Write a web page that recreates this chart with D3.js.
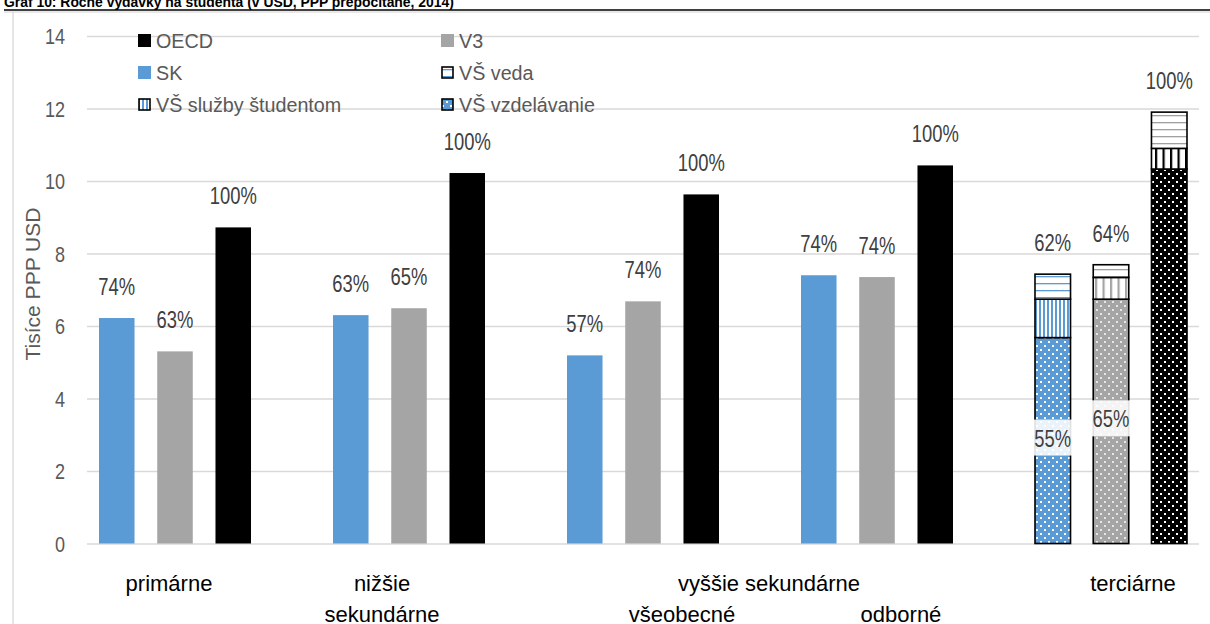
<!DOCTYPE html>
<html>
<head>
<meta charset="utf-8">
<script src="https://cdn.jsdelivr.net/npm/d3@7/dist/d3.min.js"></script>
<style>
body { margin: 0; overflow: hidden; background: #fff; }
text { font-family: "Liberation Sans", Arial, sans-serif; }
.tick line { stroke: #d9d9d9; stroke-width: 1.3; }
.tick text { font-size: 22px; fill: #595959; }
</style>
</head>
<body>
<svg width="1210" height="624"></svg>
<script>
// data
const categories = ['primárne', 'nižšie sekundárne', 'všeobecné', 'odborné', 'terciárne'];
const seriesNames = ['SK', 'V3', 'OECD'];
const skValues = [6.22, 6.30, 5.19, 7.40];
const v3Values = [5.30, 6.49, 6.68, 7.35];
const oecdValues = [8.72, 10.22, 9.63, 10.43];
const skLabels = ['74%', '63%', '57%', '74%', '62%'];
const v3Labels = ['63%', '65%', '74%', '74%', '64%'];
const oecdLabels = ['100%', '100%', '100%', '100%', '100%'];
const tertiaryParts = ['VŠ vzdelávanie', 'VŠ služby študentom', 'VŠ veda'];
const skTertiary = [5.68, 1.06, 0.69];
const v3Tertiary = [6.74, 0.60, 0.35];
const oecdTertiary = [10.33, 0.57, 1.00];
const tertiaryEduLabels = ['55%', '65%', null];
const yTicks = [0, 2, 4, 6, 8, 10, 12, 14];
const legendNames = ['OECD', 'V3', 'SK', 'VŠ veda', 'VŠ služby študentom', 'VŠ vzdelávanie'];

const svg = d3.select('svg');
const colors = { SK: '#5b9bd5', V3: '#a5a5a5', OECD: '#000000' };
const font = '"Liberation Sans", Arial, sans-serif';

// title strip (cut off at the top in the original)
svg.append('text')
  .attr('x', 4).attr('y', 6.5)
  .style('font-size', '13.9px').style('font-weight', 'bold').attr('fill', '#000')
  .text('Graf 10: Ročné výdavky na študenta (v USD, PPP prepočítané, 2014)');
svg.append('line').attr('x1', 4).attr('x2', 1210).attr('y1', 10).attr('y2', 10)
  .attr('stroke', '#000').attr('stroke-width', 1.5);
svg.append('line').attr('x1', 4).attr('x2', 1210).attr('y1', 12).attr('y2', 12)
  .attr('stroke', '#d0d0d0').attr('stroke-width', 1);
svg.append('line').attr('x1', 13).attr('x2', 13).attr('y1', 12).attr('y2', 624)
  .attr('stroke', '#d9d9d9').attr('stroke-width', 1.3);

// patterns
const defs = svg.append('defs');
seriesNames.forEach(s => {
  const c = colors[s];
  const dots = defs.append('pattern').attr('id', 'dots-' + s)
    .attr('patternUnits', 'userSpaceOnUse').attr('width', 8).attr('height', 8);
  dots.append('rect').attr('width', 8).attr('height', 8).attr('fill', c);
  const dc = s === 'V3' ? '#e6e6e6' : '#ffffff';
  dots.append('rect').attr('x', 1).attr('y', 1).attr('width', 2).attr('height', 2).attr('fill', dc);
  dots.append('rect').attr('x', 5).attr('y', 5).attr('width', 2).attr('height', 2).attr('fill', dc);

  const vw = s === 'SK' ? 4 : 7.5;
  const vl = defs.append('pattern').attr('id', 'vlines-' + s)
    .attr('patternUnits', 'userSpaceOnUse').attr('width', vw).attr('height', 8);
  vl.append('rect').attr('width', vw).attr('height', 8).attr('fill', '#fff');
  vl.append('rect').attr('width', s === 'SK' ? 2 : 2.2).attr('height', 8).attr('fill', c);

  const hl = defs.append('pattern').attr('id', 'hlines-' + s)
    .attr('patternUnits', 'userSpaceOnUse').attr('width', 8).attr('height', 7);
  hl.append('rect').attr('width', 8).attr('height', 7).attr('fill', '#fff');
  hl.append('rect').attr('y', 3).attr('width', 8).attr('height', 1.3)
    .attr('fill', s === 'SK' ? c : '#a0a0a0');
});
const partFill = (s, part) => {
  if (part === 'VŠ vzdelávanie') return 'url(#dots-' + s + ')';
  if (part === 'VŠ služby študentom') return 'url(#vlines-' + s + ')';
  return 'url(#hlines-' + s + ')';
};

// scales
const plotLeft = 87, plotRight = 1199;
const x0 = d3.scaleBand().domain(categories).range([99, 1187]).paddingInner(0.3504).paddingOuter(0);
const x1 = d3.scaleBand().domain(seriesNames).range([0, x0.bandwidth()]).paddingInner(0.39).paddingOuter(0);
const y = d3.scaleLinear().domain([0, 14]).range([543.5, 36]);

// y axis with gridlines
const yAxisG = svg.append('g').attr('transform', `translate(${plotLeft},0)`)
  .call(d3.axisLeft(y).tickValues(yTicks).tickSize(-(plotRight - plotLeft)).tickPadding(0));
yAxisG.select('.domain').remove();
yAxisG.selectAll('.tick text')
  .attr('x', -22 / 0.82).attr('dy', '0.36em')
  .attr('transform', 'scale(0.82,1)')
  .style('font-family', font);

svg.append('text')
  .attr('transform', 'translate(40,284) rotate(-90)')
  .attr('text-anchor', 'middle')
  .style('font-size', '21px').attr('fill', '#595959')
  .text('Tisíce PPP USD');

// helper for the narrow data labels
const label = (g, x, yy, str, size, sx, fill) => g.append('text')
  .attr('transform', `translate(${x},${yy}) scale(${sx},1)`)
  .attr('text-anchor', 'middle')
  .style('font-size', size + 'px').attr('fill', fill)
  .text(str);

// clustered bars
const clustered = categories.slice(0, 4).map((c, i) => ({
  cat: c,
  values: [
    { s: 'SK', v: skValues[i], l: skLabels[i] },
    { s: 'V3', v: v3Values[i], l: v3Labels[i] },
    { s: 'OECD', v: oecdValues[i], l: oecdLabels[i] }
  ]
}));
const groups = svg.append('g').selectAll('g').data(clustered).join('g')
  .attr('transform', d => `translate(${x0(d.cat)},0)`);
groups.selectAll('rect').data(d => d.values).join('rect')
  .attr('x', d => x1(d.s)).attr('width', x1.bandwidth())
  .attr('y', d => y(d.v)).attr('height', d => y(0) - y(d.v))
  .attr('fill', d => colors[d.s]);
groups.each(function (d) {
  const g = d3.select(this);
  d.values.forEach(b => label(g, x1(b.s) + x1.bandwidth() / 2, y(b.v) - 23, b.l, 23, 0.8, '#404040'));
});

// tertiary stacked bars
const tertRows = [
  { s: 'SK', vals: skTertiary, l: skLabels[4], inner: tertiaryEduLabels[0] },
  { s: 'V3', vals: v3Tertiary, l: v3Labels[4], inner: tertiaryEduLabels[1] },
  { s: 'OECD', vals: oecdTertiary, l: oecdLabels[4], inner: tertiaryEduLabels[2] }
].map(r => {
  const o = { s: r.s, l: r.l, inner: r.inner };
  tertiaryParts.forEach((p, j) => o[p] = r.vals[j]);
  return o;
});
const stacked = d3.stack().keys(tertiaryParts)(tertRows);
const tg = svg.append('g').attr('transform', `translate(${x0('terciárne')},0)`);
stacked.forEach(layer => {
  tg.selectAll(null).data(layer).join('rect')
    .attr('x', d => x1(d.data.s)).attr('width', x1.bandwidth())
    .attr('y', d => y(d[1])).attr('height', d => y(d[0]) - y(d[1]))
    .attr('fill', d => partFill(d.data.s, layer.key))
    .attr('stroke', '#000').attr('stroke-width', 1.6);
});
const topLayer = stacked[stacked.length - 1];
topLayer.forEach(d => label(tg, x1(d.data.s) + x1.bandwidth() / 2, y(d[1]) - 23, d.data.l, 23, 0.8, '#404040'));
stacked[0].forEach(d => {
  if (!d.data.inner) return;
  const cx = x1(d.data.s) + x1.bandwidth() / 2;
  const cy = (y(d[0]) + y(d[1])) / 2 - 3;
  tg.append('rect').attr('x', cx - 23.5).attr('y', cy - 18).attr('width', 47).attr('height', 36)
    .attr('fill', '#fff').attr('fill-opacity', 0.88);
  label(tg, cx, cy + 9, d.data.inner, 23, 0.8, '#404040');
});

// category labels
const labelShift = { 'primárne': -6, 'nižšie sekundárne': -27, 'všeobecné': 39, 'odborné': 24, 'terciárne': 22 };
const catLines = { 'primárne': ['primárne'], 'nižšie sekundárne': ['nižšie', 'sekundárne'], 'terciárne': ['terciárne'] };
const xl = svg.append('g').style('font-size', '22px').attr('fill', '#000').attr('text-anchor', 'middle');
categories.forEach(c => {
  const cx = x0(c) + x0.bandwidth() / 2 + labelShift[c];
  if (catLines[c]) {
    catLines[c].forEach((t, k) => xl.append('text').attr('x', cx).attr('y', 591 + k * 31).text(t));
  } else {
    xl.append('text').attr('x', cx).attr('y', 622).text(c);
  }
});
const upperMid = (x0('všeobecné') + x0('odborné') + x0.bandwidth()) / 2 + 9;
xl.append('text').attr('x', upperMid).attr('y', 591).text('vyššie sekundárne');

// legend
const legendPos = [[138, 48], [441, 48], [138, 80], [441, 80], [138, 112], [441, 112]];
const legendFill = {
  'OECD': colors.OECD, 'V3': colors.V3, 'SK': colors.SK,
  'VŠ veda': 'url(#hlines-SK)', 'VŠ služby študentom': 'url(#vlines-SK)', 'VŠ vzdelávanie': 'url(#dots-SK)'
};
const leg = svg.append('g').selectAll('g').data(legendNames).join('g')
  .attr('transform', (d, i) => `translate(${legendPos[i][0]},${legendPos[i][1]})`);
leg.append('rect')
  .attr('x', d => d.startsWith('VŠ') ? 1 : 0).attr('y', d => d.startsWith('VŠ') ? -13 : -14)
  .attr('width', d => d.startsWith('VŠ') ? 11 : 13).attr('height', d => d.startsWith('VŠ') ? 11 : 13)
  .attr('fill', d => legendFill[d])
  .attr('stroke', d => d.startsWith('VŠ') ? '#000' : 'none').attr('stroke-width', 1.6);
leg.append('text')
  .attr('transform', 'translate(18,0) scale(0.94,1)')
  .style('font-size', '21px').attr('fill', '#595959')
  .text(d => d);
</script>
</body>
</html>
